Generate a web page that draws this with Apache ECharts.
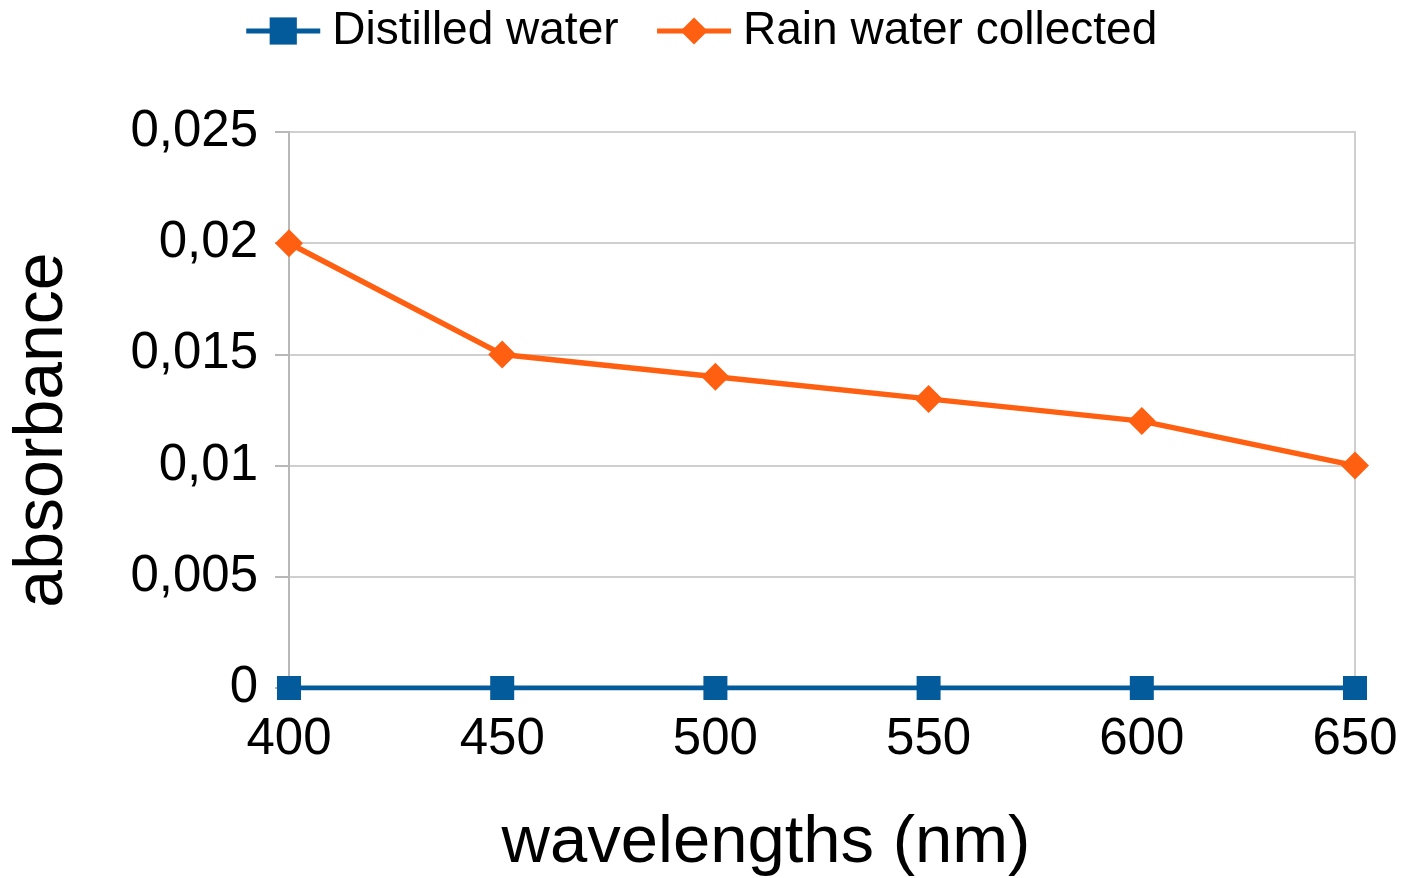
<!DOCTYPE html>
<html>
<head>
<meta charset="utf-8">
<script src="https://cdn.jsdelivr.net/npm/echarts@6/dist/echarts.min.js"></script>
<style>html,body{margin:0;padding:0;background:#fff;}#c{width:1401px;height:878px;}</style>
</head>
<body>
<div id="c"></div>
<script>
const categories = ['400', '450', '500', '550', '600', '650'];
const distilledWater = [0, 0, 0, 0, 0, 0];
const rainWater = [0.02, 0.015, 0.014, 0.013, 0.012, 0.01];
const seriesNames = ['Distilled water', 'Rain water collected'];
const xAxisTitle = 'wavelengths (nm)';
const yAxisTitle = 'absorbance';

const FONT = '"Liberation Sans", Arial, sans-serif';
const chart = echarts.init(document.getElementById('c'), null, {renderer: 'canvas'});
chart.setOption({
  animation: false,
  backgroundColor: '#fff',
  textStyle: {fontFamily: FONT},
  legend: {
    top: 3,
    left: 'center',
    itemWidth: 74,
    itemHeight: 34,
    itemGap: 36,
    lineStyle: {width: 5},
    textStyle: {fontSize: 46, color: '#000', fontFamily: FONT, padding: [0, 0, 0, 7]},
    data: seriesNames
  },
  grid: {
    left: 289, right: 46, top: 132, bottom: 190, containLabel: false,
    outerBoundsMode: 'none',
    show: true, borderColor: '#cfcfcf', borderWidth: 2, backgroundColor: 'transparent'
  },
  xAxis: {
    type: 'category',
    data: categories,
    boundaryGap: false,
    name: xAxisTitle,
    nameLocation: 'middle',
    nameGap: 122,
    nameTextStyle: {fontSize: 67, color: '#000', fontFamily: FONT, padding: [0, 112, 0, 0]},
    axisLine: {show: true, lineStyle: {color: '#b8b8b8', width: 2}},
    axisTick: {show: true, length: 12, lineStyle: {color: '#b8b8b8', width: 2}},
    axisLabel: {fontSize: 51, color: '#000', margin: 26, fontFamily: FONT},
    splitLine: {show: false}
  },
  yAxis: {
    type: 'value',
    min: 0,
    max: 0.025,
    interval: 0.005,
    name: yAxisTitle,
    nameLocation: 'middle',
    nameGap: 212,
    nameTextStyle: {fontSize: 68, color: '#000', fontFamily: FONT, padding: [0, 40, 0, 0]},
    axisLine: {show: true, lineStyle: {color: '#b8b8b8', width: 2}},
    axisTick: {show: true, length: 14, lineStyle: {color: '#b8b8b8', width: 2}},
    axisLabel: {
      fontSize: 51, color: '#000', margin: 31, fontFamily: FONT,
      formatter: v => String(+v.toFixed(3)).replace('.', ',')
    },
    splitLine: {show: true, lineStyle: {color: '#cfcfcf', width: 2}}
  },
  series: [
    {
      name: seriesNames[0],
      type: 'line',
      data: distilledWater,
      symbol: 'rect',
      symbolSize: 24,
      color: '#045b9b',
      lineStyle: {width: 5, color: '#045b9b'},
      itemStyle: {color: '#045b9b'}
    },
    {
      name: seriesNames[1],
      type: 'line',
      data: rainWater,
      symbol: 'diamond',
      symbolSize: 28,
      color: '#ff5f10',
      lineStyle: {width: 5.5, color: '#ff5f10'},
      itemStyle: {color: '#ff5f10'}
    }
  ]
});
</script>
</body>
</html>
